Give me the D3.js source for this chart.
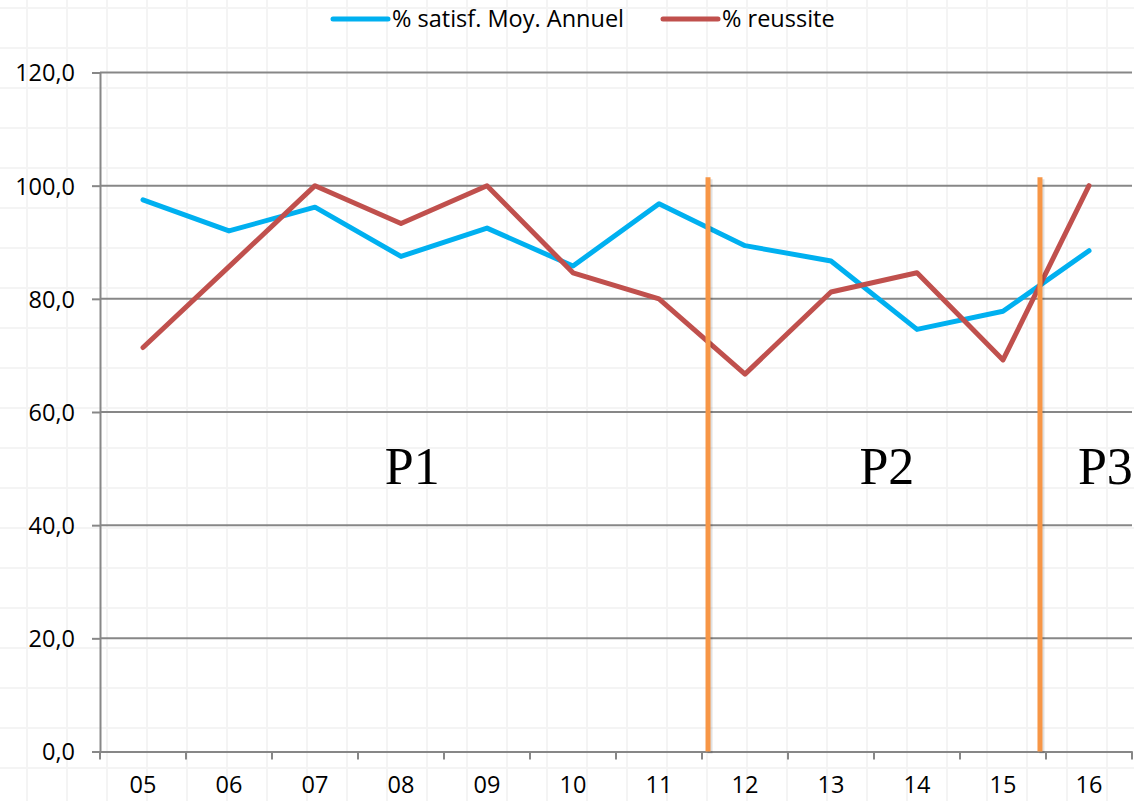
<!DOCTYPE html>
<html>
<head>
<meta charset="utf-8">
<script src="https://cdn.jsdelivr.net/npm/d3@7"></script>
<style>
  body { margin: 0; background: #fff; }
  svg { display: block; }
  .lbl { font-family: "Open Sans", sans-serif; font-size: 23.5px; fill: #000; }
  .per { font-family: "Liberation Serif", "DejaVu Serif", serif; font-size: 52px; fill: #000; }
</style>
</head>
<body>
<div id="chart"></div>
<script>
// data
const years = ["05","06","07","08","09","10","11","12","13","14","15","16"];
const satisf = [97.5, 92.0, 96.2, 87.5, 92.5, 85.8, 96.8, 89.4, 86.7, 74.6, 77.8, 88.5];
const reussite = [71.4, 85.7, 100.0, 93.3, 100.0, 84.6, 80.0, 66.7, 81.2, 84.6, 69.2, 100.0];
const yTicks = [0, 20, 40, 60, 80, 100, 120];
const seriesNames = ["% satisf. Moy. Annuel", "% reussite"];
// period breaks and labels, in category units from the left edge
const periodBreaks = [7.07, 10.93];
const periodLabels = ["P1", "P2", "P3"];
const periodPos = [3.63, 9.15, 11.69];

const width = 1134, height = 801;
const margin = {top: 72.5, right: 2, bottom: 49.5, left: 100};
const colors = ["#00B0F0", "#C0504D"];

const svg = d3.select("#chart").append("svg")
    .attr("width", width)
    .attr("height", height);

// faint sheet grid in the background
const bg = svg.append("g").attr("class", "sheet");
for (let x = 27; x < width; x += 40) {
    bg.append("line").attr("x1", x).attr("x2", x).attr("y1", 0).attr("y2", height)
        .attr("stroke", "#f4f4f4").attr("stroke-width", 2);
}
for (let y = 8; y < height; y += 40) {
    bg.append("line").attr("x1", 0).attr("x2", width).attr("y1", y).attr("y2", y)
        .attr("stroke", "#f4f4f4").attr("stroke-width", 2);
}

const xScale = d3.scaleBand()
    .domain(years)
    .range([margin.left, width - margin.right]);

// same span, in category units (for breaks and labels)
const xUnits = d3.scaleLinear()
    .domain([0, years.length])
    .range([margin.left, width - margin.right]);

const yScale = d3.scaleLinear()
    .domain([0, 120])
    .range([height - margin.bottom, margin.top]);

// horizontal grid lines + y labels
const yAxis = svg.append("g")
    .attr("transform", "translate(" + margin.left + ",0)")
    .call(d3.axisLeft(yScale)
        .tickValues(yTicks)
        .tickSize(8)
        .tickPadding(17)
        .tickFormat(d => d3.format(".1f")(d).replace(".", ",")));
yAxis.select(".domain").attr("stroke", "#878787").attr("stroke-width", 2);
yAxis.selectAll(".tick line").attr("stroke", "#878787").attr("stroke-width", 2);
yAxis.selectAll(".tick text").attr("class", "lbl").attr("dy", "0.36em");

svg.append("g").selectAll("line")
    .data(yTicks.filter(d => d > 0))
    .enter().append("line")
    .attr("x1", margin.left)
    .attr("x2", width - margin.right)
    .attr("y1", d => yScale(d))
    .attr("y2", d => yScale(d))
    .attr("stroke", "#878787")
    .attr("stroke-width", 2);

// x axis
const xAxis = svg.append("g")
    .attr("transform", "translate(0," + yScale(0) + ")")
    .call(d3.axisBottom(xScale).tickSize(0).tickPadding(25));
xAxis.select(".domain").attr("stroke", "#878787").attr("stroke-width", 2);
xAxis.selectAll(".tick text").attr("class", "lbl");

// category boundary ticks
svg.append("g").selectAll("line")
    .data(d3.range(years.length + 1))
    .enter().append("line")
    .attr("x1", d => xUnits(d))
    .attr("x2", d => xUnits(d))
    .attr("y1", yScale(0))
    .attr("y2", yScale(0) + 8)
    .attr("stroke", "#878787")
    .attr("stroke-width", 2);

// series lines
const line = d3.line()
    .x((d, i) => xScale(years[i]) + xScale.bandwidth() / 2)
    .y(d => yScale(d));

[satisf, reussite].forEach((s, k) => {
    svg.append("path")
        .datum(s)
        .attr("fill", "none")
        .attr("stroke", colors[k])
        .attr("stroke-width", 5)
        .attr("stroke-linejoin", "round")
        .attr("stroke-linecap", "round")
        .attr("d", line);
});

// period separators
periodBreaks.forEach(b => {
    svg.append("line")
        .attr("x1", xUnits(b) + 2).attr("x2", xUnits(b) + 2)
        .attr("y1", yScale(101.5) + 2).attr("y2", yScale(0) + 2)
        .attr("stroke", "#000").attr("stroke-opacity", 0.12).attr("stroke-width", 5);
    svg.append("line")
        .attr("x1", xUnits(b)).attr("x2", xUnits(b))
        .attr("y1", yScale(101.5)).attr("y2", yScale(0))
        .attr("stroke", "#F79646").attr("stroke-width", 5);
});

// period labels
svg.append("g").selectAll("text")
    .data(periodLabels)
    .enter().append("text")
    .attr("class", "per")
    .attr("text-anchor", "middle")
    .attr("x", (d, i) => xUnits(periodPos[i]))
    .attr("y", yScale(47.2))
    .text(d => d);

// legend
const legendX = [333, 663];
const legend = svg.append("g");
seriesNames.forEach((n, k) => {
    legend.append("line")
        .attr("x1", legendX[k]).attr("x2", legendX[k] + 55)
        .attr("y1", 19).attr("y2", 19)
        .attr("stroke", colors[k]).attr("stroke-width", 5)
        .attr("stroke-linecap", "round");
    legend.append("text")
        .attr("class", "lbl")
        .attr("x", legendX[k] + 59)
        .attr("y", 27)
        .text(n);
});
</script>
</body>
</html>
